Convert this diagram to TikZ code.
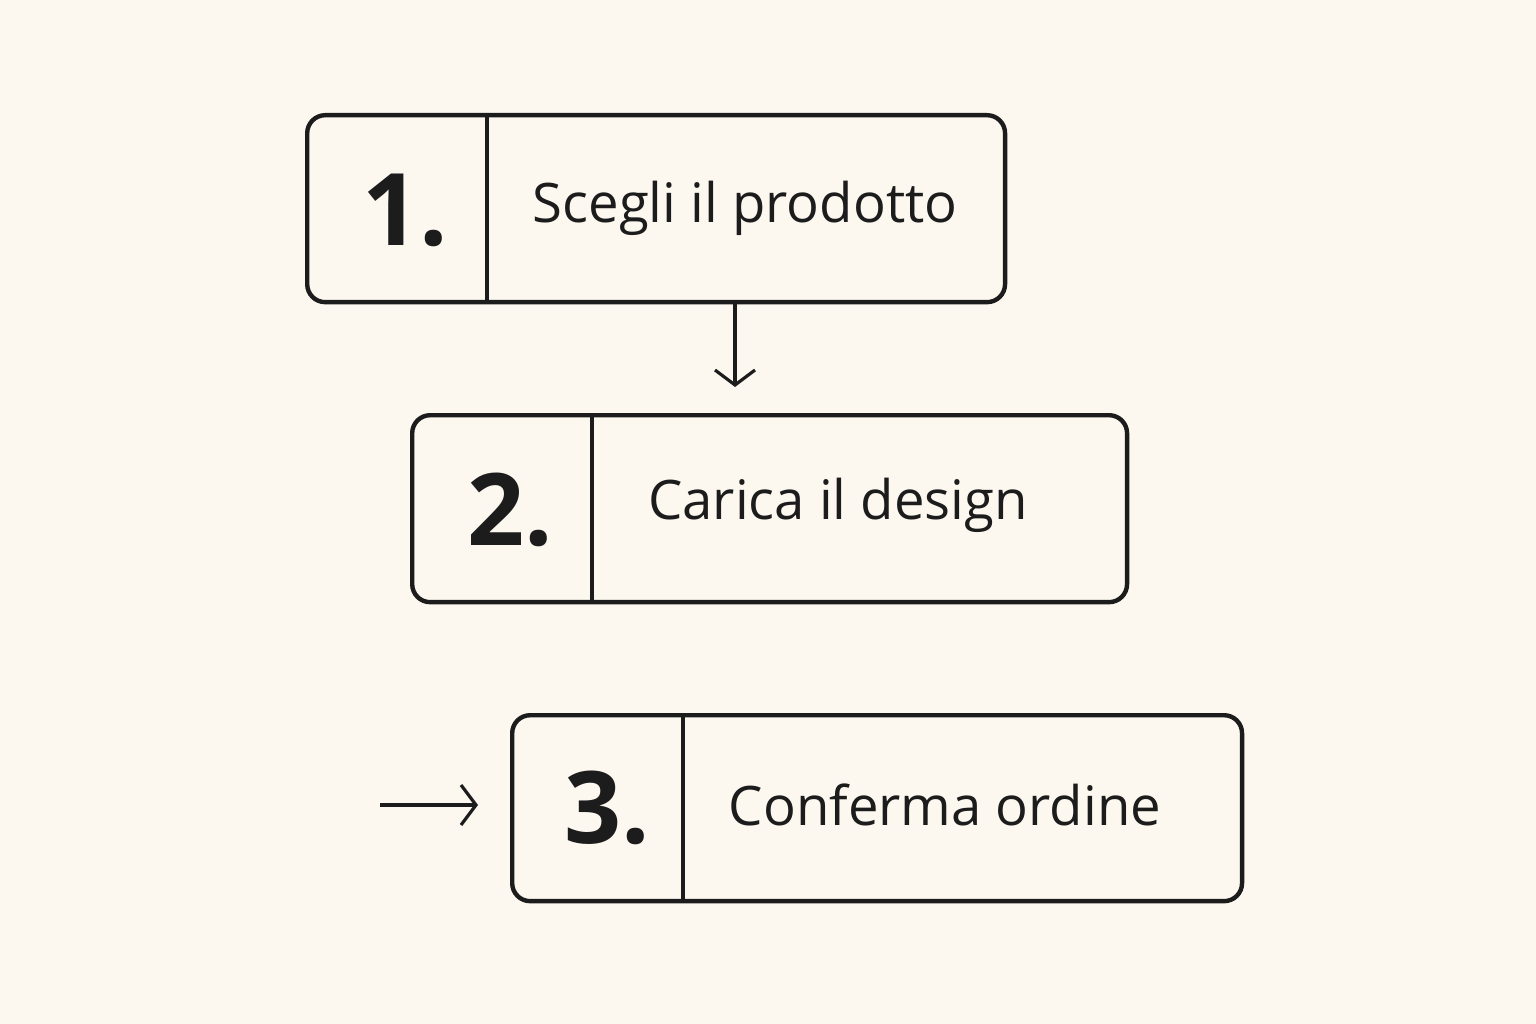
\documentclass[tikz,border=0pt]{standalone}
\usepackage{fontspec}
\setmainfont{Open Sans}
\usetikzlibrary{arrows.meta}
\definecolor{paper}{HTML}{FCF8F0}
\definecolor{ink}{HTML}{1C1C1C}
\begin{document}
\begin{tikzpicture}[
    x=0.02cm, y=-0.02cm,
    stepbox/.style={draw=ink, line width=2.5pt, rounded corners=0.36cm, anchor=north west},
    num/.style={font=\fontsize{57}{57}\selectfont\bfseries, text=ink},
    txt/.style={font=\fontsize{31}{31}\selectfont, text=ink},
    flow/.style={draw=ink, line width=1.8pt, -{Straight Barb[length=0.3cm, width=0.8cm]}},
]
\fill[paper] (0,0) rectangle (1536,1024);
\useasboundingbox (0,0) rectangle (1536,1024);

% Step boxes
\node[stepbox, minimum width=13.96cm, minimum height=3.74cm] (s1) at (305,113) {};
\node[stepbox, minimum width=14.30cm, minimum height=3.74cm] (s2) at (410,413) {};
\node[stepbox, minimum width=14.60cm, minimum height=3.72cm] (s3) at (510,713) {};

% Dividers
\draw[ink, line width=2.5pt] (487,113) -- (487,300);
\draw[ink, line width=2.5pt] (592,413) -- (592,600);
\draw[ink, line width=2.5pt] (683,713) -- (683,899);

% Numbers and labels
\node[num] (n1) at (405,210) {1.};
\node[txt] (t1) at (745,208) {Scegli il prodotto};
\node[num] (n2) at (510,510) {2.};
\node[txt] (t2) at (838,505) {Carica il design};
\node[num] (n3) at (607,808) {3.};
\node[txt] (t3) at (945,805) {Conferma ordine};

% Connectors
\coordinate (a1) at (735,300);
\coordinate (b1) at (735,387);
\draw[flow] (a1) -- (b1);
\coordinate (a3) at (380,805);
\coordinate (b3) at (478,805);
\draw[flow] (a3) -- (b3);
\end{tikzpicture}
\end{document}
